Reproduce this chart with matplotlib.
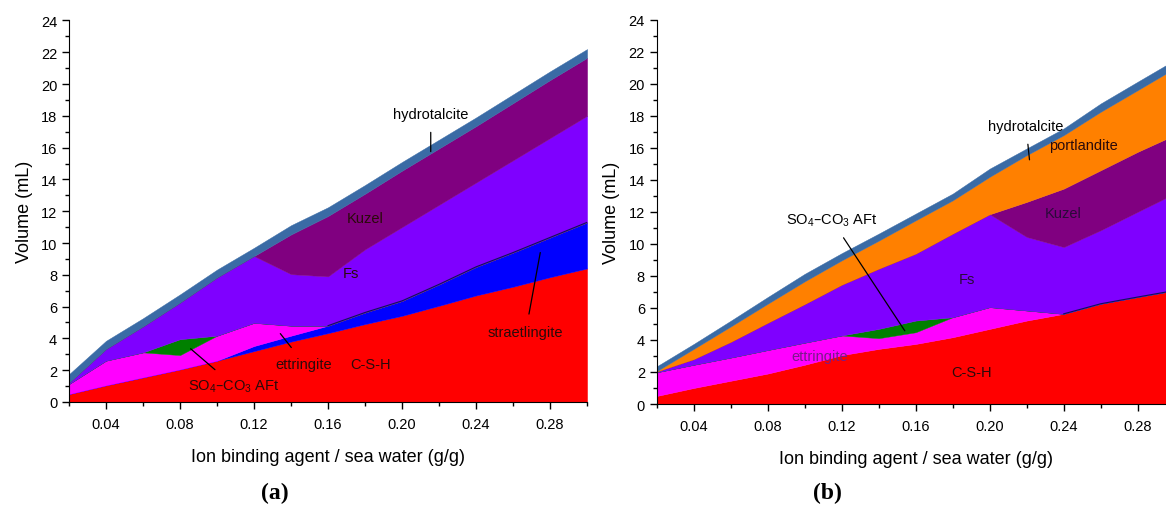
import matplotlib
matplotlib.use('Agg')
import matplotlib.pyplot as plt
from matplotlib.ticker import MultipleLocator, FixedLocator

plt.rcParams['font.family'] = ['Liberation Sans', 'DejaVu Sans']
plt.rcParams['mathtext.default'] = 'regular'

# Ion binding agent / sea water ratio (g/g)
ratio = [0.02, 0.04, 0.06, 0.08, 0.10, 0.12, 0.14, 0.16,
         0.18, 0.20, 0.22, 0.24, 0.26, 0.28, 0.30]

# panel (a): phase volumes (mL), stacked bottom to top
csh_a = [0.5, 1.05, 1.55, 2.05, 2.6, 3.2, 3.8, 4.33, 4.9, 5.42, 6.05, 6.7, 7.25, 7.85, 8.4]
straet_a = [0, 0, 0, 0, 0, 0.32, 0.37, 0.47, 0.73, 0.94, 1.35, 1.8, 2.15, 2.5, 2.9]
ett_a = [0.63, 1.55, 1.57, 0.9, 1.57, 1.46, 0.63, 0, 0, 0, 0, 0, 0, 0, 0]
aft_a = [0, 0, 0, 1.0, 0, 0, 0, 0, 0, 0, 0, 0, 0, 0, 0]
fs_a = [0.07, 0.73, 1.63, 2.3, 3.66, 4.2, 3.24, 3.1, 3.97, 4.64, 5.0, 5.3, 5.8, 6.25, 6.7]
kuzel_a = [0, 0, 0, 0, 0, 0, 2.5, 3.8, 3.5, 3.55, 3.55, 3.55, 3.6, 3.65, 3.65]
hydro_a = [0.55, 0.52, 0.52, 0.52, 0.5, 0.52, 0.58, 0.55, 0.55, 0.55, 0.55, 0.55, 0.55, 0.55, 0.55]

# panel (b)
csh_b = [0.5, 1.0, 1.45, 1.9, 2.45, 3.05, 3.44, 3.75, 4.17, 4.69, 5.21, 5.63, 6.26, 6.68, 7.09]
ett_b = [1.48, 1.45, 1.45, 1.47, 1.38, 1.23, 0.67, 0.73, 1.25, 1.36, 0.63, 0, 0, 0, 0]
aft_b = [0, 0, 0, 0, 0, 0, 0.58, 0.73, 0, 0, 0, 0, 0, 0, 0]
fs_b = [0.05, 0.35, 0.98, 1.7, 2.41, 3.17, 3.76, 4.18, 5.22, 5.8, 4.59, 4.17, 4.59, 5.32, 6.05]
kuzel_b = [0, 0, 0, 0, 0, 0, 0, 0, 0, 0, 2.19, 3.65, 3.75, 3.75, 3.66]
portl_b = [0.02, 0.64, 0.96, 1.19, 1.42, 1.52, 1.75, 2.08, 2.08, 2.34, 2.92, 3.34, 3.65, 3.85, 4.16]
hydro_b = [0.3, 0.31, 0.36, 0.42, 0.47, 0.45, 0.44, 0.42, 0.42, 0.51, 0.42, 0.42, 0.52, 0.53, 0.52]

major_x = [0.04, 0.08, 0.12, 0.16, 0.20, 0.24, 0.28]
minor_x = [0.02, 0.06, 0.10, 0.14, 0.18, 0.22, 0.26, 0.30]

RED, BLUE, MAG, GRN = '#ff0000', '#0000ff', '#ff00ff', '#008000'
VIO, PUR, ORA, STL = '#7f00ff', '#800080', '#ff8000', '#3a6ba5'
INK = '#2a0a0a'

aft_label = 'SO$_4$\u2013CO$_3$ AFt'


def style_axes(ax):
    ax.set_xlim(0.02, 0.30)
    ax.set_ylim(0, 24)
    ax.xaxis.set_major_locator(FixedLocator(major_x))
    ax.xaxis.set_minor_locator(FixedLocator(minor_x))
    ax.set_xticklabels(['%.2f' % v for v in major_x])
    ax.yaxis.set_major_locator(MultipleLocator(2))
    ax.yaxis.set_minor_locator(MultipleLocator(1))
    ax.tick_params(which='major', direction='out', length=5, width=1, labelsize=10.5)
    ax.tick_params(axis='x', which='major', pad=6)
    ax.tick_params(which='minor', direction='out', length=3, width=1)
    for s in ('top', 'right'):
        ax.spines[s].set_visible(False)
    ax.set_xlabel('Ion binding agent / sea water (g/g)', fontsize=13, labelpad=12)
    ax.set_ylabel('Volume (mL)', fontsize=13, labelpad=6)


def note(ax, text, xy, xytext, color=INK):
    ax.annotate(text, xy=xy, xytext=xytext, fontsize=10.5, color=color,
                ha='center', va='center',
                arrowprops=dict(arrowstyle='-', color='black', lw=0.9,
                                shrinkA=6, shrinkB=0))


fig = plt.figure(figsize=(11.66, 5.06), dpi=100)

# ---- panel (a)
axa = fig.add_axes([0.0592, 0.2036, 0.4443, 0.754])
axa.stackplot(ratio, csh_a, straet_a, ett_a, aft_a, fs_a, kuzel_a, hydro_a,
              colors=[RED, BLUE, MAG, GRN, VIO, PUR, STL],
              edgecolor='face', linewidth=0.3)
top_st = [a + b for a, b in zip(csh_a, straet_a)]
axa.plot(ratio[7:], top_st[7:], color='#10105a', lw=0.8)
style_axes(axa)
axa.text(0.18, 11.6, 'Kuzel', fontsize=10.5, color=INK, ha='center', va='center')
axa.text(0.1725, 8.1, 'Fs', fontsize=10.5, color=INK, ha='center', va='center')
axa.text(0.183, 2.4, 'C-S-H', fontsize=10.5, color=INK, ha='center', va='center')
note(axa, 'hydrotalcite', (0.2155, 15.75), (0.2155, 18.1), color='black')
note(axa, 'straetlingite', (0.2747, 9.4), (0.2668, 4.4))
note(axa, 'ettringite', (0.1342, 4.3), (0.1471, 2.4))
note(axa, aft_label, (0.0857, 3.35), (0.1092, 1.0))

# ---- panel (b), cut off at the right edge like the source figure
axb = fig.add_axes([0.5632, 0.1996, 0.4443, 0.7595])
axb.stackplot(ratio, csh_b, ett_b, aft_b, fs_b, kuzel_b, portl_b, hydro_b,
              colors=[RED, MAG, GRN, VIO, PUR, ORA, STL],
              edgecolor='face', linewidth=0.3)
axb.plot(ratio[11:], csh_b[11:], color='#10105a', lw=0.8)
style_axes(axb)
axb.text(0.2508, 16.2, 'portlandite', fontsize=10.5, color=INK, ha='center', va='center')
axb.text(0.2395, 11.9, 'Kuzel', fontsize=10.5, color='#2a0a3a', ha='center', va='center')
axb.text(0.1875, 7.8, 'Fs', fontsize=10.5, color='#2a0a3a', ha='center', va='center')
axb.text(0.1904, 2.0, 'C-S-H', fontsize=10.5, color=INK, ha='center', va='center')
axb.text(0.1080, 3.0, 'ettringite', fontsize=10.5, ha='center', va='center',
         color='#7a1a8a')
note(axb, 'hydrotalcite', (0.2215, 15.25), (0.2196, 17.35), color='black')
note(axb, aft_label, (0.1541, 4.57), (0.1146, 11.5), color='black')

fig.text(275 / 1166, 1 - 493 / 506, '(a)', family=['Liberation Serif', 'DejaVu Serif'],
         fontsize=17, fontweight='bold', ha='center', va='center')
fig.text(827 / 1166, 1 - 493 / 506, '(b)', family=['Liberation Serif', 'DejaVu Serif'],
         fontsize=17, fontweight='bold', ha='center', va='center')

fig.savefig('out.png', dpi=100)
